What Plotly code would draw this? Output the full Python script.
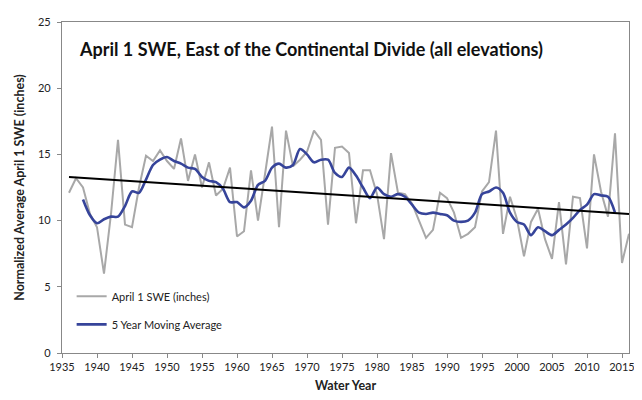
import plotly.graph_objects as go

years = list(range(1936, 2017))
swe = [12.1, 13.2, 12.5, 10.5, 9.5, 6.0, 10.5, 16.1, 9.7, 9.5,
       12.5, 14.9, 14.5, 15.3, 14.5, 13.9, 16.2, 13.0, 15.0, 12.5,
       14.4, 11.9, 12.4, 14.0, 8.8, 9.2, 13.8, 10.0, 13.5, 17.1,
       9.5, 16.8, 14.1, 14.6, 15.2, 16.8, 16.1, 9.7, 15.5, 15.6,
       15.1, 9.8, 13.8, 13.8, 12.0, 8.6, 15.1, 12.1, 12.0, 11.3,
       10.0, 8.7, 9.3, 12.1, 11.7, 10.6, 8.7, 9.0, 9.5, 12.2,
       12.9, 16.8, 9.0, 11.8, 10.1, 7.3, 9.9, 10.9, 8.6, 7.1,
       11.4, 6.7, 11.8, 11.7, 7.9, 15.0, 12.2, 10.3, 16.6, 6.8,
       9.0]

ma_years = list(range(1938, 2015))
ma5 = [11.6, 10.4, 9.8, 10.1, 10.3, 10.3, 11.1, 12.2, 12.1, 13.1,
       14.2, 14.6, 14.8, 14.5, 14.3, 14.0, 13.9, 13.3, 13.0, 12.9,
       12.4, 11.4, 11.4, 11.0, 11.5, 12.7, 13.0, 14.0, 14.3, 14.0,
       14.2, 15.4, 15.0, 14.4, 14.6, 14.6, 13.6, 13.3, 14.0, 13.4,
       12.5, 11.7, 12.5, 12.0, 11.8, 12.0, 11.8, 11.2, 10.6, 10.5,
       10.6, 10.5, 10.4, 10.0, 9.9, 10.0, 10.6, 12.0, 12.2, 12.5,
       12.1, 10.6, 9.9, 9.7, 8.9, 9.5, 9.2, 8.9, 9.3, 9.7,
       10.2, 10.8, 11.2, 12.0, 11.9, 11.8, 10.6]

trend_years = [1936, 2016]
trend_vals = [13.3, 10.5]

x_ticks = list(range(1935, 2016, 5))
y_ticks = [0, 5, 10, 15, 20, 25]

FONT = "Lato, 'Open Sans', sans-serif"

fig = go.Figure()
fig.add_trace(go.Scatter(x=years, y=swe, mode="lines", name="April 1 SWE (inches)",
                         line=dict(color="#a8a8a8", width=2), legendgroup="a"))
fig.add_trace(go.Scatter(x=ma_years, y=ma5, mode="lines", name="5 Year Moving Average",
                         line=dict(color="#36449a", width=2.6, shape="spline", smoothing=0.8),
                         legendgroup="b"))
fig.add_trace(go.Scatter(x=trend_years, y=trend_vals, mode="lines", showlegend=False,
                         line=dict(color="#000000", width=2)))

# page body has an 8px margin, so the figure is sized to fit the 642x400 window
fig.update_layout(
    width=634, height=392,
    margin=dict(l=54, r=7, t=9, b=47),
    paper_bgcolor="white", plot_bgcolor="white",
    font=dict(family=FONT, color="#222222", size=11),
    showlegend=True,
    legend=dict(x=0.017, y=0.215, xanchor="left", yanchor="top",
                bgcolor="rgba(255,255,255,0)", font=dict(size=11, color="#222"),
                tracegroupgap=9, traceorder="grouped"),
    annotations=[dict(text="<b>April 1 SWE, East of the Continental Divide (all elevations)</b>",
                      x=0.026, y=0.917, xref="paper", yref="paper", xanchor="left",
                      yanchor="middle", showarrow=False,
                      font=dict(family=FONT, size=18, color="#111"))],
)
fig.update_xaxes(range=[1935, 2016], tickvals=x_ticks, ticks="outside", ticklen=4,
                 tickcolor="#888", showline=True, linecolor="#888", linewidth=1.2,
                 mirror=True, showgrid=False, zeroline=False,
                 tickfont=dict(size=11, color="#222"),
                 title=dict(text="<b>Water Year</b>", font=dict(size=12.5, color="#222"), standoff=8))
fig.update_yaxes(range=[0, 25], tickvals=y_ticks, ticks="outside", ticklen=4,
                 tickcolor="#888", showline=True, linecolor="#888", linewidth=1.2,
                 mirror=True, showgrid=False, zeroline=False,
                 tickfont=dict(size=11, color="#222"), ticklabelstandoff=4,
                 title=dict(text="<b>Normalized Average April 1 SWE (inches)</b>",
                            font=dict(size=12.5, color="#222"), standoff=10))

fig.write_html("out.html")
